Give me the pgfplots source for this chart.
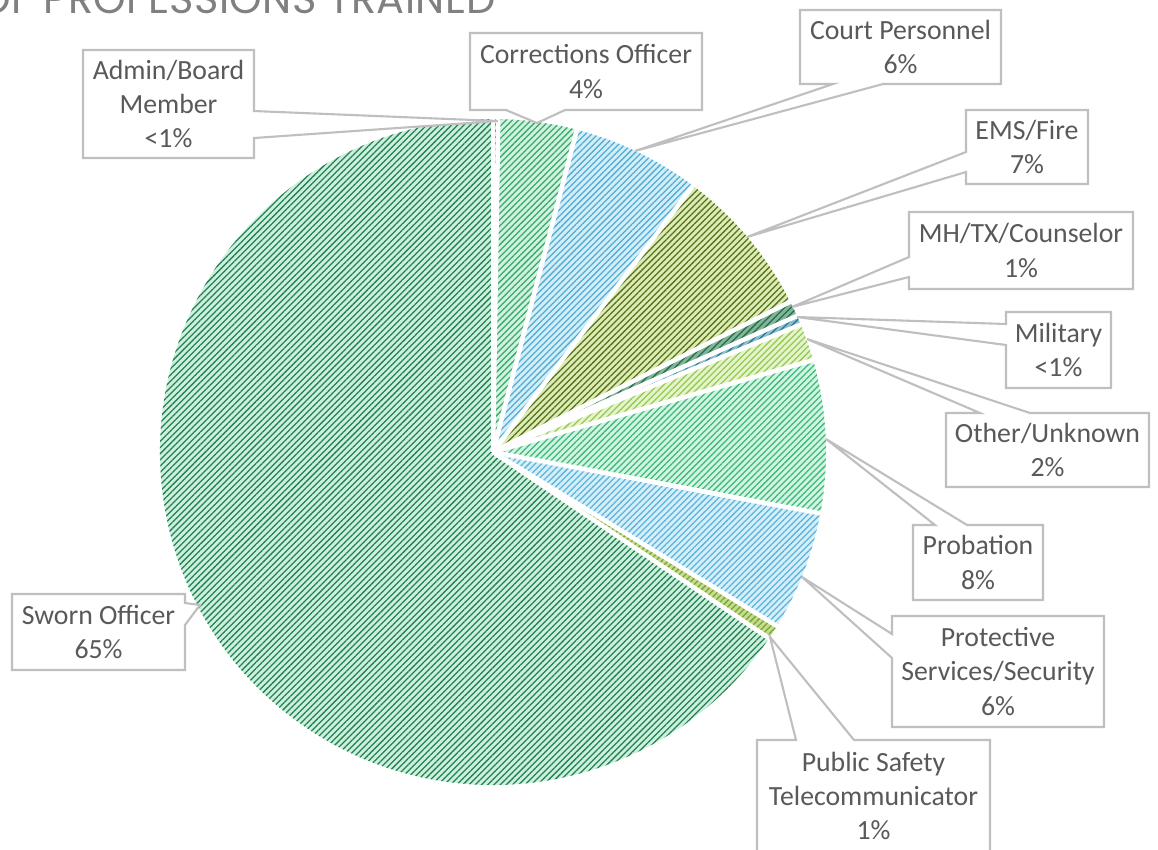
\documentclass[border=0pt]{standalone}
\usepackage{pgfplots}
\pgfplotsset{compat=1.18}
\usepackage{pgfplotstable}
\usetikzlibrary{patterns.meta}
\usepackage{fontspec}
\setmainfont{Carlito}
\newfontfamily\titlefont[LetterSpace=1]{Poppins}

\definecolor{labeltext}{RGB}{89,89,89}
\definecolor{boxline}{RGB}{191,191,191}
\definecolor{titlegray}{RGB}{128,128,128}
% slice colours: background tint and stripe colour
\definecolor{adminbg}{RGB}{205,235,220}   \definecolor{adminfg}{RGB}{40,130,90}
\definecolor{corrbg}{RGB}{208,242,222}    \definecolor{corrfg}{RGB}{56,168,108}
\definecolor{courtbg}{RGB}{212,238,248}   \definecolor{courtfg}{RGB}{80,172,212}
\definecolor{emsbg}{RGB}{220,236,178}     \definecolor{emsfg}{RGB}{86,112,32}
\definecolor{mhbg}{RGB}{130,182,150}      \definecolor{mhfg}{RGB}{36,108,78}
\definecolor{milbg}{RGB}{140,190,206}     \definecolor{milfg}{RGB}{36,118,150}
\definecolor{otherbg}{RGB}{228,244,204}   \definecolor{otherfg}{RGB}{152,200,82}
\definecolor{probbg}{RGB}{210,244,226}    \definecolor{probfg}{RGB}{60,184,122}
\definecolor{protbg}{RGB}{214,238,248}    \definecolor{protfg}{RGB}{90,180,220}
\definecolor{telebg}{RGB}{196,220,146}    \definecolor{telefg}{RGB}{122,164,42}
\definecolor{swornbg}{RGB}{204,240,220}   \definecolor{swornfg}{RGB}{34,128,84}

% share of professions trained (percent), clockwise from 12 o'clock
\pgfplotstableread{
share bg fg
0.25 adminbg adminfg
3.80 corrbg corrfg
6.20 courtbg courtfg
7.30 emsbg emsfg
0.75 mhbg mhfg
0.45 milbg milfg
1.80 otherbg otherfg
7.40 probbg probfg
5.80 protbg protfg
0.70 telebg telefg
65.55 swornbg swornfg
}\piedata

\tikzset{callout/.style={draw=boxline, line width=0.6pt, fill=white, line join=miter},
  ctext/.style={text=labeltext, align=center, font=\fontsize{7.9}{9.8}\selectfont, inner sep=0pt}}

\begin{document}
\begin{tikzpicture}
\path[use as bounding box] (0,0) rectangle (11.58,8.5);
\clip (0,0) rectangle (11.58,8.5);
\begin{axis}[
  width=11.58cm, height=8.5cm, scale only axis,
  xmin=0, xmax=1158, ymin=0, ymax=850, y dir=reverse,
  hide axis, clip=false]
\pgfplotstablegetrowsof{\piedata}
\pgfmathtruncatemacro\nrows{\pgfplotsretval-1}
\gdef\acc{0}
\foreach \i in {0,...,\nrows}{%
  \pgfplotstablegetelem{\i}{share}\of\piedata\let\sh\pgfplotsretval
  \pgfplotstablegetelem{\i}{bg}\of\piedata\let\bgc\pgfplotsretval
  \pgfplotstablegetelem{\i}{fg}\of\piedata\let\fgc\pgfplotsretval
  \pgfmathsetmacro\sa{90-3.6*\acc}%
  \pgfmathsetmacro\ea{90-3.6*(\acc+\sh)}%
  \edef\slice{%
    \noexpand\fill[\bgc] (axis cs:493,452) -- ([shift={(\sa:3.33cm)}]axis cs:493,452)
      arc[start angle=\sa, end angle=\ea, radius=3.33cm] -- cycle;
    \noexpand\fill[pattern={Lines[angle=45,distance=1.25pt,line width=0.36pt]}, pattern color=\fgc]
      (axis cs:493,452) -- ([shift={(\sa:3.33cm)}]axis cs:493,452)
      arc[start angle=\sa, end angle=\ea, radius=3.33cm] -- cycle;
  }\slice
  \pgfmathsetmacro\nacc{\acc+\sh}\xdef\acc{\nacc}%
}
% white separators between slices
\gdef\acc{0}
\foreach \i in {0,...,\nrows}{%
  \pgfplotstablegetelem{\i}{share}\of\piedata\let\sh\pgfplotsretval
  \pgfmathsetmacro\sa{90-3.6*\acc}%
  \edef\sep{\noexpand\draw[white, line width=1.3pt] (axis cs:493,452) -- ([shift={(\sa:3.36cm)}]axis cs:493,452);}\sep
  \pgfmathsetmacro\nacc{\acc+\sh}\xdef\acc{\nacc}%
}

% title (cut by the top edge)
\node[anchor=base east, text=titlegray, font=\titlefont\fontsize{11.8}{14}\selectfont, inner sep=0pt]
  at (axis cs:497,13) {TYPES OF PROFESSIONS TRAINED};

% callouts
\draw[callout] (axis cs:83,50) -- (axis cs:254,50) -- (axis cs:254,111) -- (axis cs:498,121)
  -- (axis cs:254,138) -- (axis cs:254,158) -- (axis cs:83,158) -- cycle;
\node[ctext] at (axis cs:168.5,104) {Admin/Board\\Member\\<1\%};

\draw[callout] (axis cs:470,33) -- (axis cs:702,33) -- (axis cs:702,110) -- (axis cs:565,110)
  -- (axis cs:537,123) -- (axis cs:506,110) -- (axis cs:470,110) -- cycle;
\node[ctext] at (axis cs:586,71.5) {Corrections Officer\\4\%};

\draw[callout] (axis cs:800,10) -- (axis cs:1001,10) -- (axis cs:1001,84) -- (axis cs:883,84)
  -- (axis cs:635,151) -- (axis cs:833,84) -- (axis cs:800,84) -- cycle;
\node[ctext] at (axis cs:900.5,47) {Court Personnel\\6\%};

\draw[callout] (axis cs:966,110) -- (axis cs:1088,110) -- (axis cs:1088,184) -- (axis cs:966,184)
  -- (axis cs:966,172) -- (axis cs:747,237) -- (axis cs:966,152) -- cycle;
\node[ctext] at (axis cs:1027,147) {EMS/Fire\\7\%};

\draw[callout] (axis cs:909,212) -- (axis cs:1133,212) -- (axis cs:1133,289) -- (axis cs:909,289)
  -- (axis cs:909,277) -- (axis cs:792,307) -- (axis cs:909,257) -- cycle;
\node[ctext] at (axis cs:1021,250.5) {MH/TX/Counselor\\1\%};

\draw[callout] (axis cs:1006,312) -- (axis cs:1111,312) -- (axis cs:1111,388) -- (axis cs:1006,388)
  -- (axis cs:1006,345) -- (axis cs:797,317) -- (axis cs:1006,324) -- cycle;
\node[ctext] at (axis cs:1058.5,350) {Military\\<1\%};

\draw[callout] (axis cs:946,413) -- (axis cs:980,413) -- (axis cs:807,339) -- (axis cs:1030,413)
  -- (axis cs:1149,413) -- (axis cs:1149,487) -- (axis cs:946,487) -- cycle;
\node[ctext] at (axis cs:1047.5,450) {Other/Unknown\\2\%};

\draw[callout] (axis cs:913,525) -- (axis cs:935,525) -- (axis cs:826,439) -- (axis cs:967,525)
  -- (axis cs:1043,525) -- (axis cs:1043,600) -- (axis cs:913,600) -- cycle;
\node[ctext] at (axis cs:978,562.5) {Probation\\8\%};

\draw[callout] (axis cs:892,616) -- (axis cs:1104,616) -- (axis cs:1104,727) -- (axis cs:892,727)
  -- (axis cs:892,658) -- (axis cs:802,577) -- (axis cs:892,634) -- cycle;
\node[ctext] at (axis cs:998,671.5) {Protective\\Services/Security\\6\%};

\draw[callout] (axis cs:757,740) -- (axis cs:796,740) -- (axis cs:770,637) -- (axis cs:854,740)
  -- (axis cs:990,740) -- (axis cs:990,856) -- (axis cs:757,856) -- cycle;
\node[ctext] at (axis cs:873.5,796) {Public Safety\\Telecommunicator\\1\%};

\draw[callout] (axis cs:12,594) -- (axis cs:185,594) -- (axis cs:185,603) -- (axis cs:200,605)
  -- (axis cs:185,625) -- (axis cs:185,670) -- (axis cs:12,670) -- cycle;
\node[ctext] at (axis cs:98.5,632) {Sworn Officer\\65\%};
\end{axis}
\end{tikzpicture}
\end{document}
